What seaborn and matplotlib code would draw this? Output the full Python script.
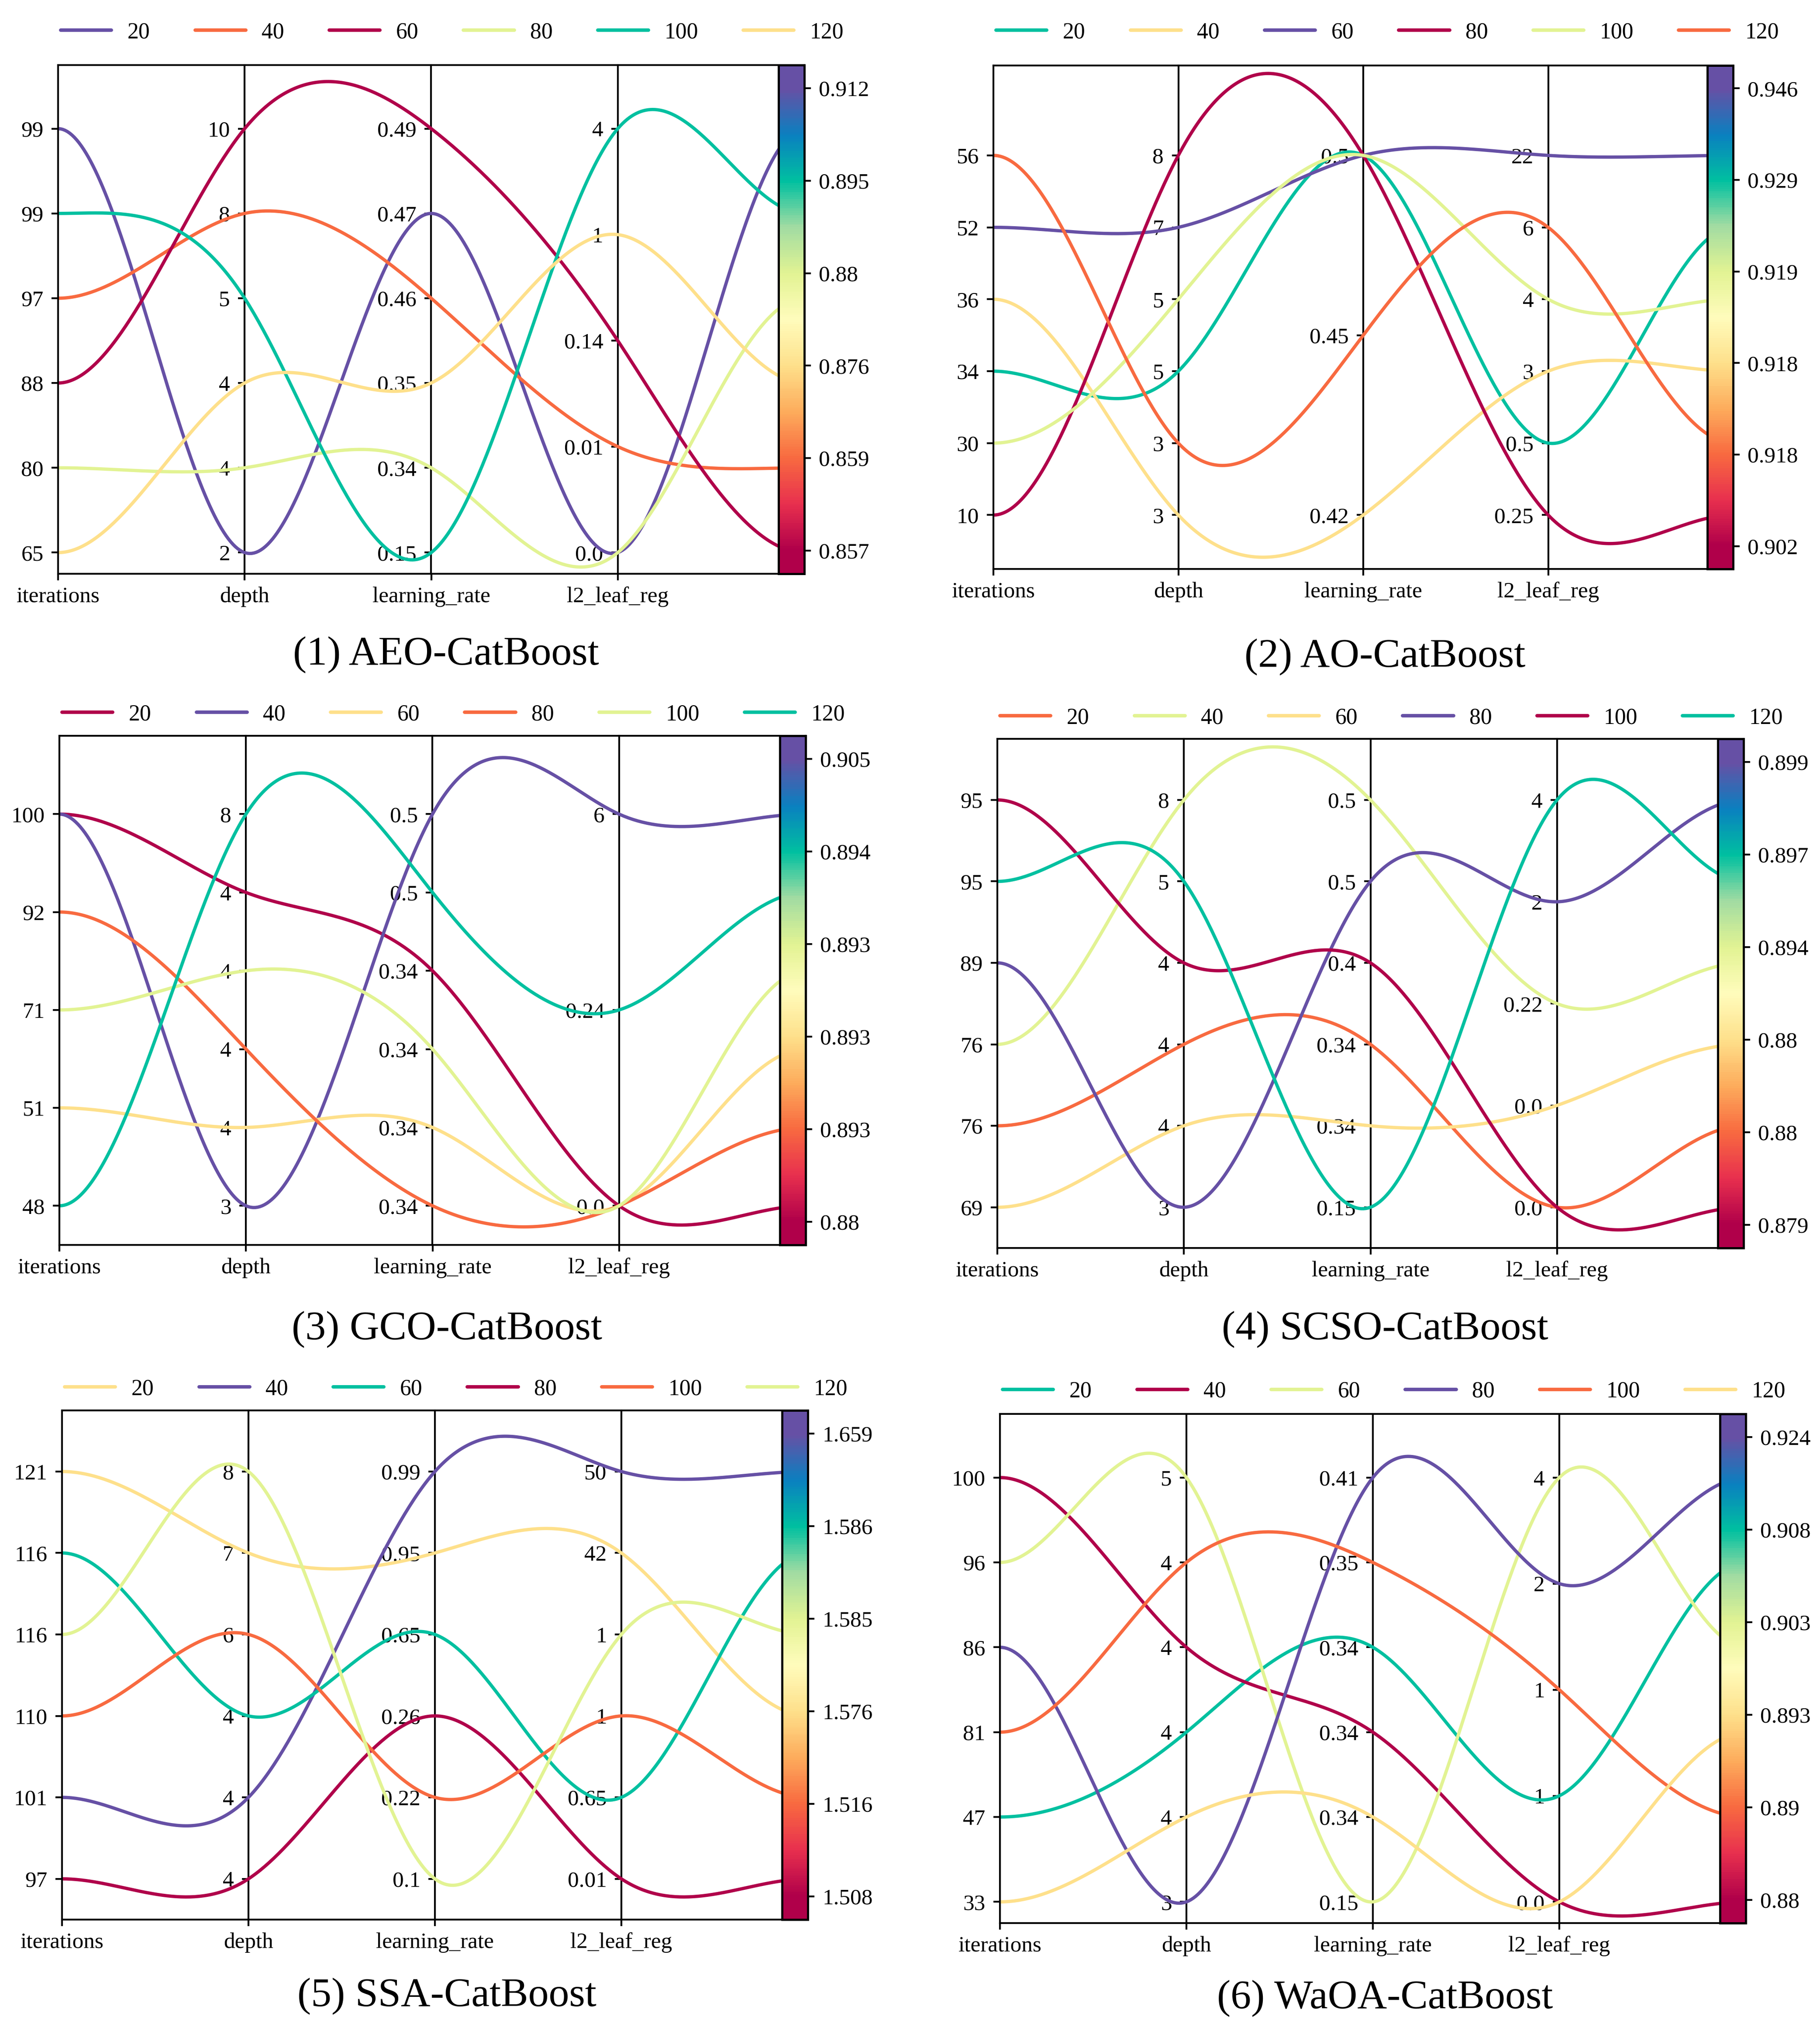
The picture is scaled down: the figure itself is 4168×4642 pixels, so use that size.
import numpy as np
import pandas as pd
import matplotlib
matplotlib.use("Agg")
import matplotlib.pyplot as plt
import seaborn as sns
from matplotlib.colors import LinearSegmentedColormap, Normalize
from matplotlib.cm import ScalarMappable

# ---- data: one value per run (legend order) and per hyper-parameter axis ----
AXIS_NAMES = ["iterations", "depth", "learning_rate", "l2_leaf_reg"]
RUNS = ["20", "40", "60", "80", "100", "120"]

# (1) AEO-CatBoost
aeo_iterations = [99.4, 97, 88, 80, 98.8, 65]
aeo_depth = [2, 8, 10, 3.8, 5, 4.2]
aeo_lr = [0.47, 0.46, 0.49, 0.34, 0.15, 0.35]
aeo_l2 = [0.002, 0.01, 0.14, 0.002, 4, 1]
aeo_score = [0.912, 0.859, 0.857, 0.880, 0.895, 0.876]

# (2) AO-CatBoost
ao_iterations = [34, 36, 52, 10, 30, 56]
ao_depth = [4.8, 2.9, 7, 8, 5.3, 3.2]
ao_lr = [0.5, 0.42, 0.5, 0.5, 0.5, 0.45]
ao_l2 = [0.5, 3, 22, 0.25, 4, 6]
ao_score = [0.929, 0.9184, 0.946, 0.902, 0.919, 0.9176]

# (3) GCO-CatBoost
gco_iterations = [100, 100, 51, 92, 71, 48]
gco_depth = [4.4, 3, 3.8, 4.0, 4.2, 8]
gco_lr = [0.344, 0.504, 0.340, 0.338, 0.342, 0.498]
gco_l2 = [0.001, 6, 0.001, 0.001, 0.001, 0.24]
gco_score = [0.880, 0.905, 0.8928, 0.8926, 0.8932, 0.894]

# (4) SCSO-CatBoost
scso_iterations = [75.8, 76.3, 69, 89, 95.3, 94.8]
scso_depth = [4.0, 8, 3.8, 3, 4.2, 5]
scso_lr = [0.342, 0.504, 0.338, 0.498, 0.4, 0.15]
scso_l2 = [0.001, 0.22, 0.004, 2, 0.001, 4]
scso_score = [0.8802, 0.894, 0.8804, 0.899, 0.879, 0.897]

# (5) SSA-CatBoost
ssa_iterations = [121, 101, 116.3, 97, 110, 115.8]
ssa_depth = [7, 4.0, 4.2, 3.8, 6, 8]
ssa_lr = [0.95, 0.99, 0.65, 0.26, 0.22, 0.1]
ssa_l2 = [42, 50, 0.65, 0.01, 1.1, 1.3]
ssa_score = [1.576, 1.659, 1.586, 1.508, 1.516, 1.585]

# (6) WaOA-CatBoost
waoa_iterations = [47, 100, 96, 86, 81, 33]
waoa_depth = [4.0, 4.2, 5, 3, 4.4, 3.8]
waoa_lr = [0.344, 0.342, 0.15, 0.41, 0.35, 0.340]
waoa_l2 = [1.1, 0.001, 4, 2, 1.3, 0.001]
waoa_score = [0.908, 0.880, 0.903, 0.924, 0.890, 0.893]

TITLES = ["(1) AEO-CatBoost", "(2) AO-CatBoost", "(3) GCO-CatBoost",
          "(4) SCSO-CatBoost", "(5) SSA-CatBoost", "(6) WaOA-CatBoost"]

PANELS = [
    [aeo_iterations, aeo_depth, aeo_lr, aeo_l2, aeo_score],
    [ao_iterations, ao_depth, ao_lr, ao_l2, ao_score],
    [gco_iterations, gco_depth, gco_lr, gco_l2, gco_score],
    [scso_iterations, scso_depth, scso_lr, scso_l2, scso_score],
    [ssa_iterations, ssa_depth, ssa_lr, ssa_l2, ssa_score],
    [waoa_iterations, waoa_depth, waoa_lr, waoa_l2, waoa_score],
]

# ---- layout (pixels in the final image) ----
W, H, DPI = 4168, 4642, 300
# left, top, width, height of each plot box
BOXES = [(133, 149, 1709, 1165), (2275, 150, 1694, 1153),
         (136, 1685, 1709, 1166), (2284, 1692, 1709, 1166),
         (142, 3230, 1708, 1166), (2290, 3238, 1708, 1166)]
YLIMS = [(-0.05, 1.15), (-0.15, 1.25), (-0.10, 1.20),
         (-0.10, 1.15), (-0.10, 1.15), (-0.05, 1.15)]
LEGEND_Y = [74, 74, 1636, 1644, 3181, 3187]
TITLE_XY = [(1021, 1500), (3172, 1505), (1023, 3045),
            (3172, 3045), (1023, 4572), (3172, 4577)]
CBAR_W = 59

cmap = LinearSegmentedColormap.from_list("spectral_vivid", [
    "#b0004a", "#e8304e", "#f86a40", "#fdac5c", "#fee08b", "#fffcbc",
    "#e2f393", "#a2dca2", "#00c0a0", "#0a80c0", "#6650a5"])


def fmt_param(v):
    return str(int(round(v))) if v >= 1 else str(round(v, 2))


def fmt_score(v):
    return str(round(v, 3))


def dense_levels(vals):
    uniq = np.unique(vals)
    pos = np.searchsorted(uniq, vals) / (len(uniq) - 1)
    ticks = np.arange(len(uniq)) / (len(uniq) - 1)
    return pos, ticks, uniq


def clamped_curve(y, n_per=80):
    # cubic spline through the points with flat ends
    y = np.asarray(y, float)
    n = len(y)
    A = np.zeros((n, n))
    r = np.zeros(n)
    A[0, :2] = [2, 1]
    r[0] = 6 * (y[1] - y[0])
    A[-1, -2:] = [1, 2]
    r[-1] = -6 * (y[-1] - y[-2])
    for i in range(1, n - 1):
        A[i, i - 1:i + 2] = [1, 4, 1]
        r[i] = 6 * (y[i + 1] - 2 * y[i] + y[i - 1])
    M = np.linalg.solve(A, r)
    xs = np.linspace(0, n - 1, (n - 1) * n_per + 1)
    i = np.minimum(xs.astype(int), n - 2)
    t = xs - i
    u = 1 - t
    ys = u * y[i] + t * y[i + 1] + (u ** 3 - u) * M[i] / 6 + (t ** 3 - t) * M[i + 1] / 6
    return xs, ys


sns.set_style("ticks")
plt.rcParams["font.family"] = ["Liberation Serif", "DejaVu Serif"]
plt.rcParams.update({
    "axes.edgecolor": "black", "axes.linewidth": 1.0,
    "xtick.color": "black", "ytick.color": "black",
    "xtick.major.width": 1.0, "ytick.major.width": 1.0,
    "xtick.major.size": 3.5, "ytick.major.size": 3.5,
    "ytick.major.pad": 4.5,
    "xtick.labelsize": 12.3, "ytick.labelsize": 12.3,
    "text.color": "black",
})

fig = plt.figure(figsize=(W / DPI, H / DPI), dpi=DPI)

for p, cols in enumerate(PANELS):
    left, top, w, h = BOXES[p]
    ax = fig.add_axes([left / W, 1 - (top + h) / H, w / W, h / H])

    axes_info = [dense_levels(v) for v in cols]
    score_pos = axes_info[4][0]

    rows = []
    for j, run in enumerate(RUNS):
        xs, ys = clamped_curve([info[0][j] for info in axes_info])
        rows.append(pd.DataFrame({"x": xs, "y": ys, "run": run}))
    df = pd.concat(rows, ignore_index=True)
    palette = {run: cmap(score_pos[j]) for j, run in enumerate(RUNS)}

    sns.lineplot(data=df, x="x", y="y", hue="run", hue_order=RUNS,
                 palette=palette, estimator=None, sort=False,
                 linewidth=1.8, ax=ax)

    ax.set_xlim(0, 4)
    ax.set_ylim(*YLIMS[p])
    ax.set(xlabel="", ylabel="")
    ax.set_xticks([0, 1, 2, 3], AXIS_NAMES)

    _, ticks, uniq = axes_info[0]
    ax.set_yticks(ticks, [fmt_param(v) for v in uniq])

    for k in range(1, 4):
        _, ticks, uniq = axes_info[k]
        sec = ax.secondary_yaxis(k / 4)
        sec.set_alignment("left")
        sec.set_ticks(ticks, [fmt_param(v) for v in uniq])
        sec.tick_params(labelsize=12.3, length=3.5, width=1.0, pad=4.5)

    cw = CBAR_W / w
    cax = ax.inset_axes([1 - cw, 0, cw, 1])
    sm = ScalarMappable(norm=Normalize(0, 1), cmap=cmap)
    cb = fig.colorbar(sm, cax=cax, boundaries=np.linspace(-0.05, 1.05, 221))
    _, ticks, uniq = axes_info[4]
    cb.set_ticks(ticks, labels=[fmt_score(v) for v in uniq])
    cb.ax.tick_params(labelsize=12.3, length=3.5, width=1.0, pad=4.5)
    cb.outline.set_linewidth(1.2)

    sns.move_legend(ax, "center left",
                    bbox_to_anchor=(6 / w, 1 + (top - LEGEND_Y[p]) / h),
                    ncol=6, frameon=False, title=None, fontsize=12.4,
                    borderpad=0, borderaxespad=0, handlelength=2.25,
                    handletextpad=0.7, columnspacing=2.0)
    for line in ax.get_legend().get_lines():
        line.set_linewidth(1.9)

    tx, ty = TITLE_XY[p]
    fig.text(tx / W, 1 - ty / H, TITLES[p], fontsize=22.5,
             ha="center", va="center")

fig.savefig("out.png", dpi=DPI)
